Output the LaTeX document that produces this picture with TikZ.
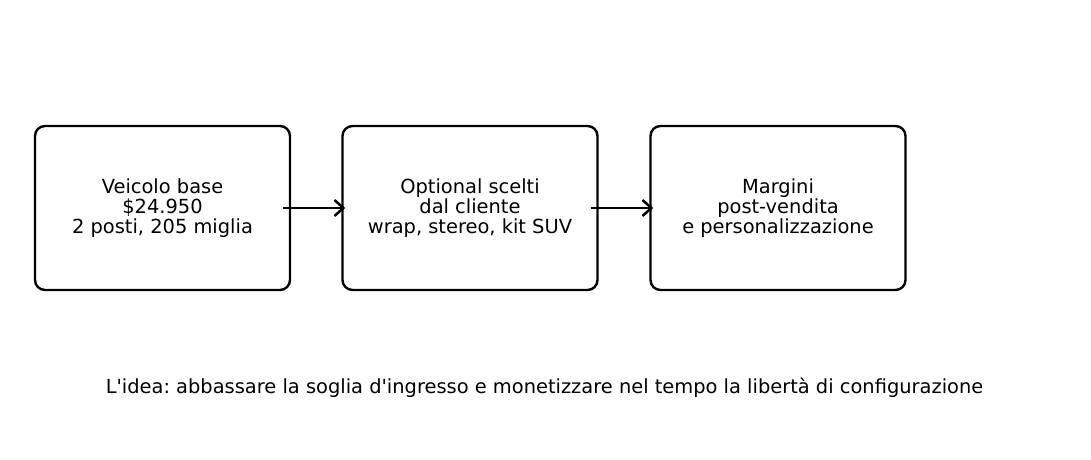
\documentclass[tikz,border=0pt]{standalone}
\usepackage{fontspec}
\defaultfontfeatures[\rmfamily]{}
\setmainfont{DejaVu Sans}
\frenchspacing
\usetikzlibrary{arrows.meta,calc}
\tikzset{
  stagebox/.style={draw=black, line width=2.4bp, rounded corners=10bp, minimum width=255bp, minimum height=164bp, align=center, inner sep=0pt, font=\fontsize{19.5}{19.8}\selectfont},
  flow/.style={line width=2.5bp, -{Straight Barb[length=9bp,width=16bp,line width=2.5bp]}},
  caption/.style={font=\fontsize{19.5}{19.8}\selectfont, inner sep=0pt}
}
\begin{document}
\begin{tikzpicture}[x=1bp,y=-1bp]
\useasboundingbox[fill=white] (0,0) rectangle (1091,460);
\node[stagebox] (b1) at (162.5,208) {Veicolo base\\\$24.950\\2 posti, 205 miglia};
\node[stagebox] (b2) at (470,208) {Optional scelti\\dal cliente\\wrap, stereo, kit SUV};
\node[stagebox] (b3) at (778,208) {Margini\\post-vendita\\e personalizzazione};
\draw[flow] ($(b1.east)+(-8,0)$) -- ($(b2.west)+(4,0)$);
\draw[flow] ($(b2.east)+(-8,0)$) -- ($(b3.west)+(4,0)$);
\node[caption] (cap) at (544.5,387.5) {L'idea: abbassare la soglia d'ingresso e monetizzare nel tempo la libertà di configurazione};
\end{tikzpicture}
\end{document}
